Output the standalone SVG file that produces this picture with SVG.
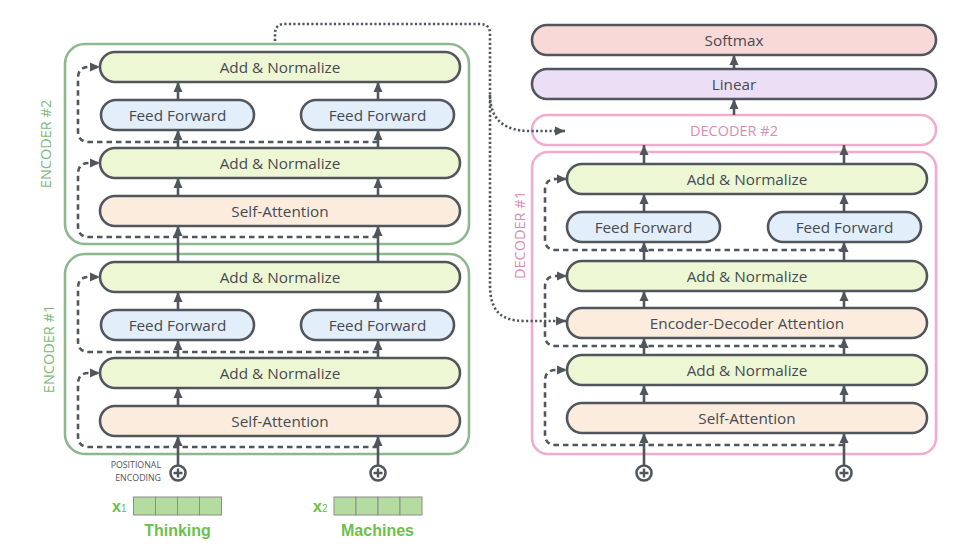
<svg xmlns="http://www.w3.org/2000/svg" width="979" height="559" viewBox="0 0 979 559">
<defs>
<marker id="ah" markerUnits="userSpaceOnUse" markerWidth="11" markerHeight="11" refX="10" refY="5.5" orient="auto">
<path d="M0,1 L10,5.5 L0,10 z" fill="#51565d"/>
</marker>
<style>
.n{stroke:#51565d;stroke-width:2.6}
.an{fill:#edf7d4}
.ff{fill:#e3eefb}
.sa{fill:#fcecdd}
.t{font-family:"Open Sans","DejaVu Sans",sans-serif;font-size:15.3px;font-weight:500;fill:#464b52;text-anchor:middle;dominant-baseline:central}
.ar{stroke:#51565d;stroke-width:2.6;fill:none;marker-end:url(#ah)}
.da{stroke:#51565d;stroke-width:2.6;fill:none;stroke-dasharray:5.5 4;marker-end:url(#ah)}
.do{stroke:#51565d;stroke-width:2.6;fill:none;stroke-dasharray:2.2 2.3}
.enc{fill:none;stroke:#8db88d;stroke-width:2.6}
.dec{fill:none;stroke:#f2abcf;stroke-width:2.6}
.el{font-family:"Open Sans","DejaVu Sans",sans-serif;font-size:14.5px;fill:#7cb87c;text-anchor:middle;dominant-baseline:central}
.dl{font-family:"Open Sans","DejaVu Sans",sans-serif;font-size:14.5px;fill:#d98cb5;text-anchor:middle;dominant-baseline:central}
.pl{stroke:#51565d;stroke-width:2.6;fill:#fff}
.vc{fill:#b4dca0;stroke:#8c8c8c;stroke-width:1}
.wd{font-family:"Liberation Sans",Arial,sans-serif;font-weight:bold;font-size:16px;fill:#6cbf4b;text-anchor:middle}
.pe{font-family:"Open Sans","DejaVu Sans",sans-serif;font-size:8.8px;fill:#4f545a;text-anchor:end}
</style>
</defs>

<!-- Encoder #2 -->
<g id="encoder2">
<rect class="enc" x="65" y="44" width="404" height="200" rx="20"/>
<text class="el" transform="translate(45,144) rotate(-90)">ENCODER #2</text>
</g>
<g id="enc2-addnorm2"><rect class="n an" x="100" y="52" width="360" height="30" rx="15"/><text class="t" x="280" y="67">Add &amp; Normalize</text></g>
<g id="enc2-ff1"><rect class="n ff" x="101" y="100" width="153" height="30" rx="15"/><text class="t" x="177.5" y="115">Feed Forward</text></g>
<g id="enc2-ff2"><rect class="n ff" x="301" y="100" width="153" height="30" rx="15"/><text class="t" x="377.5" y="115">Feed Forward</text></g>
<g id="enc2-addnorm1"><rect class="n an" x="100" y="148" width="360" height="30" rx="15"/><text class="t" x="280" y="163">Add &amp; Normalize</text></g>
<g id="enc2-selfattn"><rect class="n sa" x="100" y="196" width="360" height="30" rx="15"/><text class="t" x="280" y="211">Self-Attention</text></g>

<!-- Encoder #1 -->
<g id="encoder1">
<rect class="enc" x="65" y="254" width="404" height="200" rx="20"/>
<text class="el" transform="translate(48,349) rotate(-90)">ENCODER #1</text>
</g>
<g id="enc1-addnorm2"><rect class="n an" x="100" y="262" width="360" height="30" rx="15"/><text class="t" x="280" y="277">Add &amp; Normalize</text></g>
<g id="enc1-ff1"><rect class="n ff" x="101" y="310" width="153" height="30" rx="15"/><text class="t" x="177.5" y="325">Feed Forward</text></g>
<g id="enc1-ff2"><rect class="n ff" x="301" y="310" width="153" height="30" rx="15"/><text class="t" x="377.5" y="325">Feed Forward</text></g>
<g id="enc1-addnorm1"><rect class="n an" x="100" y="358" width="360" height="30" rx="15"/><text class="t" x="280" y="373">Add &amp; Normalize</text></g>
<g id="enc1-selfattn"><rect class="n sa" x="100" y="406" width="360" height="30" rx="15"/><text class="t" x="280" y="421">Self-Attention</text></g>

<!-- Decoder -->
<g id="softmax"><rect class="n" fill="#f8d9d7" x="532" y="25" width="404" height="30" rx="15"/><text class="t" x="734" y="40">Softmax</text></g>
<g id="linear"><rect class="n" fill="#ecdff5" x="532" y="69" width="404" height="30" rx="15"/><text class="t" x="734" y="84">Linear</text></g>
<g id="decoder2"><rect class="dec" fill="#fff" x="532" y="115" width="404" height="30" rx="15"/><text class="dl" x="734" y="130">DECODER #2</text></g>
<g id="decoder1">
<rect class="dec" x="532" y="152" width="404" height="302" rx="16"/>
<text class="dl" transform="translate(519,235) rotate(-90)">DECODER #1</text>
</g>
<g id="dec1-addnorm3"><rect class="n an" x="567" y="164" width="360" height="30" rx="15"/><text class="t" x="747" y="179">Add &amp; Normalize</text></g>
<g id="dec1-ff1"><rect class="n ff" x="567" y="212" width="153" height="30" rx="15"/><text class="t" x="643.5" y="227">Feed Forward</text></g>
<g id="dec1-ff2"><rect class="n ff" x="768" y="212" width="153" height="30" rx="15"/><text class="t" x="844.5" y="227">Feed Forward</text></g>
<g id="dec1-addnorm2"><rect class="n an" x="567" y="261" width="360" height="30" rx="15"/><text class="t" x="747" y="276">Add &amp; Normalize</text></g>
<g id="dec1-encdec"><rect class="n sa" x="567" y="308" width="360" height="30" rx="15"/><text class="t" x="747" y="323">Encoder-Decoder Attention</text></g>
<g id="dec1-addnorm1"><rect class="n an" x="567" y="355" width="360" height="30" rx="15"/><text class="t" x="747" y="370">Add &amp; Normalize</text></g>
<g id="dec1-selfattn"><rect class="n sa" x="567" y="403" width="360" height="30" rx="15"/><text class="t" x="747" y="418">Self-Attention</text></g>

<!-- Positional encoding / inputs -->
<g id="pos-enc-label">
<text class="pe" x="161" y="468">POSITIONAL</text>
<text class="pe" x="161" y="480.5">ENCODING</text>
</g>
<g id="plus-e1"><circle class="pl" cx="178" cy="473" r="7.5"/><path d="M173.5,473 H182.5 M178,468.5 V477.5" stroke="#51565d" stroke-width="2.4"/></g>
<g id="plus-e2"><circle class="pl" cx="378" cy="473" r="7.5"/><path d="M373.5,473 H382.5 M378,468.5 V477.5" stroke="#51565d" stroke-width="2.4"/></g>
<g id="plus-d1"><circle class="pl" cx="644" cy="473" r="7.5"/><path d="M639.5,473 H648.5 M644,468.5 V477.5" stroke="#51565d" stroke-width="2.4"/></g>
<g id="plus-d2"><circle class="pl" cx="844" cy="473" r="7.5"/><path d="M839.5,473 H848.5 M844,468.5 V477.5" stroke="#51565d" stroke-width="2.4"/></g>

<g id="x1">
<rect class="vc" x="133.5" y="497" width="22" height="18"/>
<rect class="vc" x="155.5" y="497" width="22" height="18"/>
<rect class="vc" x="177.5" y="497" width="22" height="18"/>
<rect class="vc" x="199.5" y="497" width="22" height="18"/>
<text font-family="Liberation Sans,Arial,sans-serif" font-weight="bold" font-size="16" fill="#6cbf4b" x="112" y="512">x<tspan font-size="10" font-weight="normal">1</tspan></text>
<text class="wd" x="177.5" y="536">Thinking</text>
</g>
<g id="x2">
<rect class="vc" x="334" y="497" width="22" height="18"/>
<rect class="vc" x="356" y="497" width="22" height="18"/>
<rect class="vc" x="378" y="497" width="22" height="18"/>
<rect class="vc" x="400" y="497" width="22" height="18"/>
<text font-family="Liberation Sans,Arial,sans-serif" font-weight="bold" font-size="16" fill="#6cbf4b" x="313" y="512">x<tspan font-size="10" font-weight="normal">2</tspan></text>
<text class="wd" x="377.5" y="536">Machines</text>
</g>

<g id="connectors">
<!-- encoder solid arrows -->
<path class="ar" d="M178,465 V436"/><path class="ar" d="M378,465 V436"/>
<path class="ar" d="M178,406 V388"/><path class="ar" d="M378,406 V388"/>
<path class="ar" d="M178,358 V340"/><path class="ar" d="M378,358 V340"/>
<path class="ar" d="M178,310 V292"/><path class="ar" d="M378,310 V292"/>
<path class="ar" d="M178,262 V226"/><path class="ar" d="M378,262 V226"/>
<path class="ar" d="M178,196 V178"/><path class="ar" d="M378,196 V178"/>
<path class="ar" d="M178,148 V130"/><path class="ar" d="M378,148 V130"/>
<path class="ar" d="M178,100 V82"/><path class="ar" d="M378,100 V82"/>
<!-- encoder residuals -->
<path class="da" d="M378,447 H89 Q78,447 78,436 V384 Q78,373 89,373 H100"/>
<path class="da" d="M378,352 H89 Q78,352 78,341 V288 Q78,277 89,277 H100"/>
<path class="da" d="M378,237 H89 Q78,237 78,226 V174 Q78,163 89,163 H100"/>
<path class="da" d="M378,142 H89 Q78,142 78,131 V78 Q78,67 89,67 H100"/>
<!-- decoder solid arrows -->
<path class="ar" d="M644,465 V433"/><path class="ar" d="M844,465 V433"/>
<path class="ar" d="M644,403 V385"/><path class="ar" d="M844,403 V385"/>
<path class="ar" d="M644,355 V338"/><path class="ar" d="M844,355 V338"/>
<path class="ar" d="M644,308 V291"/><path class="ar" d="M844,308 V291"/>
<path class="ar" d="M644,261 V242"/><path class="ar" d="M844,261 V242"/>
<path class="ar" d="M644,212 V194"/><path class="ar" d="M844,212 V194"/>
<path class="ar" d="M644,164 V145"/><path class="ar" d="M844,164 V145"/>
<path class="ar" d="M734,115 V99"/>
<path class="ar" d="M734,69 V55"/>
<!-- decoder residuals -->
<path class="da" d="M844,445 H556 Q545,445 545,434 V381 Q545,370 556,370 H567"/>
<path class="da" d="M844,346 H556 Q545,346 545,335 V287 Q545,276 556,276 H567"/>
<path class="da" d="M844,250 H556 Q545,250 545,239 V190 Q545,179 556,179 H567"/>
<!-- encoder output to decoders -->
<path class="do" d="M275,41 V34 Q275,24 285,24 H480 Q490,24 490,34 V285 C490,310 500,321 525,321 H558"/>
<path class="ar" d="M558,321 H566"/>
<path class="do" d="M490,95 C490,120 505,131 530,131 H557"/>
<path class="ar" d="M557,131 H565"/>
</g>
</svg>
